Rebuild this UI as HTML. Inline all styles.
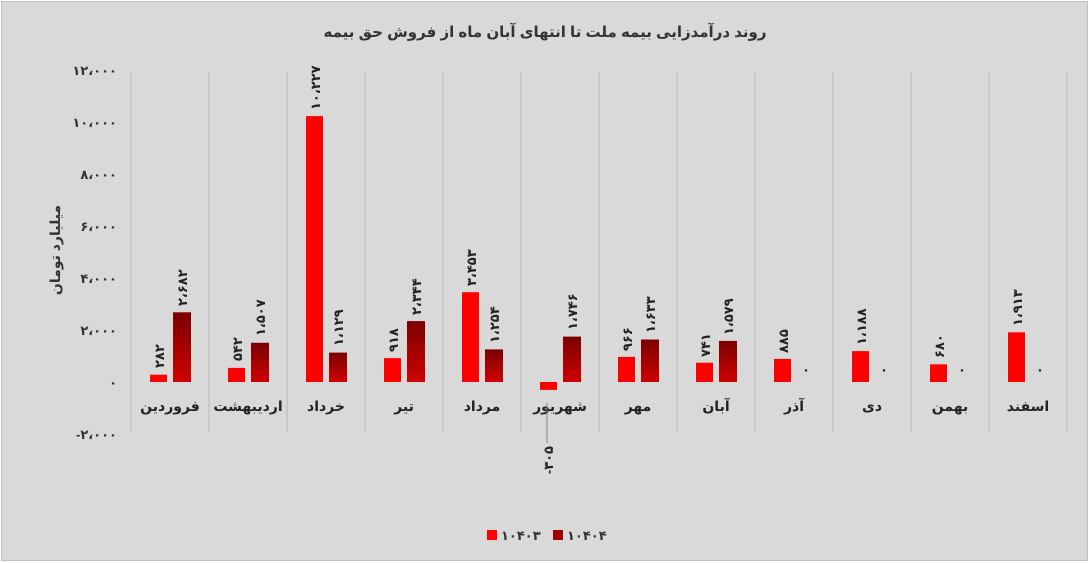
<!DOCTYPE html><html><head><meta charset="utf-8"><style>
body{margin:0;background:#fff}
svg{display:block;font-family:"Liberation Sans","DejaVu Sans",sans-serif}
</style></head><body>
<svg width="1090" height="563" viewBox="0 0 1090 563">
<defs><linearGradient id="g" x1="0" y1="0" x2="0" y2="1"><stop offset="0" stop-color="#7a0000"/><stop offset="1" stop-color="#d00000"/></linearGradient></defs>
<rect x="1.5" y="1.5" width="1086" height="559" fill="#d9d9d9" stroke="#bfbfbf"/>
<text x="545" y="37" text-anchor="middle" font-size="15" font-weight="bold" fill="#333">روند درآمدزایی بیمه ملت تا انتهای آبان ماه  از فروش حق بیمه</text>
<g font-size="13" font-weight="bold" fill="#333" text-anchor="end">
<text x="117" y="75">۱۲،۰۰۰</text><text x="117" y="127">۱۰،۰۰۰</text><text x="117" y="179">۸،۰۰۰</text><text x="117" y="231">۶،۰۰۰</text><text x="117" y="283">۴،۰۰۰</text><text x="117" y="335">۲،۰۰۰</text><text x="117" y="387">۰</text><text x="117" y="439">-۲،۰۰۰</text>
</g>
<text transform="translate(60,250) rotate(-90)" text-anchor="middle" font-size="14" font-weight="bold" fill="#333">میلیارد تومان</text>
<g stroke="#c4c4c4" stroke-width="1.5">
<line x1="131" y1="72" x2="131" y2="432"/><line x1="209" y1="72" x2="209" y2="432"/><line x1="287" y1="72" x2="287" y2="432"/><line x1="365" y1="72" x2="365" y2="432"/><line x1="443" y1="72" x2="443" y2="432"/><line x1="521" y1="72" x2="521" y2="432"/><line x1="599" y1="72" x2="599" y2="432"/><line x1="677" y1="72" x2="677" y2="432"/><line x1="755" y1="72" x2="755" y2="432"/><line x1="833" y1="72" x2="833" y2="432"/><line x1="911" y1="72" x2="911" y2="432"/><line x1="989" y1="72" x2="989" y2="432"/><line x1="1067" y1="72" x2="1067" y2="432"/>
</g>
<g fill="#ff0000">
<rect x="150" y="374.7" width="17" height="7.3"/>
<rect x="228" y="367.9" width="17" height="14.1"/>
<rect x="306" y="116.1" width="17" height="265.9"/>
<rect x="384" y="358.1" width="17" height="23.9"/>
<rect x="462" y="292.2" width="17" height="89.8"/>
<rect x="540" y="382" width="17" height="7.9"/>
<rect x="618" y="356.9" width="17" height="25.1"/>
<rect x="696" y="362.7" width="17" height="19.3"/>
<rect x="774" y="359" width="17" height="23"/>
<rect x="852" y="351.1" width="17" height="30.9"/>
<rect x="930" y="364.3" width="17" height="17.7"/>
<rect x="1008" y="332.3" width="17" height="49.7"/>
</g>
<g fill="url(#g)">
<rect x="173" y="312.3" width="18" height="69.7"/>
<rect x="251" y="342.8" width="18" height="39.2"/>
<rect x="329" y="352.6" width="18" height="29.4"/>
<rect x="407" y="321.1" width="18" height="60.9"/>
<rect x="485" y="349.4" width="18" height="32.6"/>
<rect x="563" y="336.6" width="18" height="45.4"/>
<rect x="641" y="339.5" width="18" height="42.5"/>
<rect x="719" y="340.9" width="18" height="41.1"/>
</g>
<g font-size="13" font-weight="bold" fill="#222" text-anchor="start">
<text transform="translate(164,368) rotate(-90)">۲۸۲</text>
<text transform="translate(187,306) rotate(-90)">۲،۶۸۲</text>
<text transform="translate(242,361) rotate(-90)">۵۴۲</text>
<text transform="translate(265,336) rotate(-90)">۱،۵۰۷</text>
<text transform="translate(320,110) rotate(-90)">۱۰،۲۲۷</text>
<text transform="translate(343,346) rotate(-90)">۱،۱۲۹</text>
<text transform="translate(398,352) rotate(-90)">۹۱۸</text>
<text transform="translate(421,315) rotate(-90)">۲،۳۴۴</text>
<text transform="translate(476,286) rotate(-90)">۳،۴۵۳</text>
<text transform="translate(499,343) rotate(-90)">۱،۲۵۴</text>
<text transform="translate(577,330) rotate(-90)">۱،۷۴۶</text>
<text transform="translate(632,351) rotate(-90)">۹۶۶</text>
<text transform="translate(655,333) rotate(-90)">۱،۶۳۳</text>
<text transform="translate(710,357) rotate(-90)">۷۴۱</text>
<text transform="translate(733,335) rotate(-90)">۱،۵۷۹</text>
<text transform="translate(788,353) rotate(-90)">۸۸۵</text>
<text transform="translate(866,345) rotate(-90)">۱،۱۸۸</text>
<text transform="translate(944,358) rotate(-90)">۶۸۰</text>
<text transform="translate(1022,326) rotate(-90)">۱،۹۱۳</text>
<text transform="translate(553,446) rotate(-90)" text-anchor="end">-۳۰۵</text>
</g>
<g font-size="13" font-weight="bold" fill="#222" text-anchor="middle">
<text x="806" y="374">۰</text><text x="884" y="374">۰</text><text x="962" y="374">۰</text><text x="1040" y="374">۰</text>
</g>
<g font-size="14" font-weight="bold" fill="#222" text-anchor="middle">
<text x="170" y="411">فروردین</text><text x="248" y="411">اردیبهشت</text><text x="326" y="411">خرداد</text><text x="404" y="411">تیر</text><text x="482" y="411">مرداد</text><text x="560" y="411">شهریور</text><text x="638" y="411">مهر</text><text x="716" y="411">آبان</text><text x="794" y="411">آذر</text><text x="872" y="411">دی</text><text x="950" y="411">بهمن</text><text x="1028" y="411">اسفند</text>
</g>
<line x1="547" y1="403" x2="547" y2="443" stroke="#888"/>
<rect x="487" y="530" width="10" height="10" fill="#ff0000"/><text x="501" y="540" font-size="13" font-weight="bold" fill="#333">۱۰۴۰۳</text>
<rect x="553" y="530" width="10" height="10" fill="#a00000"/><text x="567" y="540" font-size="13" font-weight="bold" fill="#333">۱۰۴۰۴</text>
</svg></body></html>
